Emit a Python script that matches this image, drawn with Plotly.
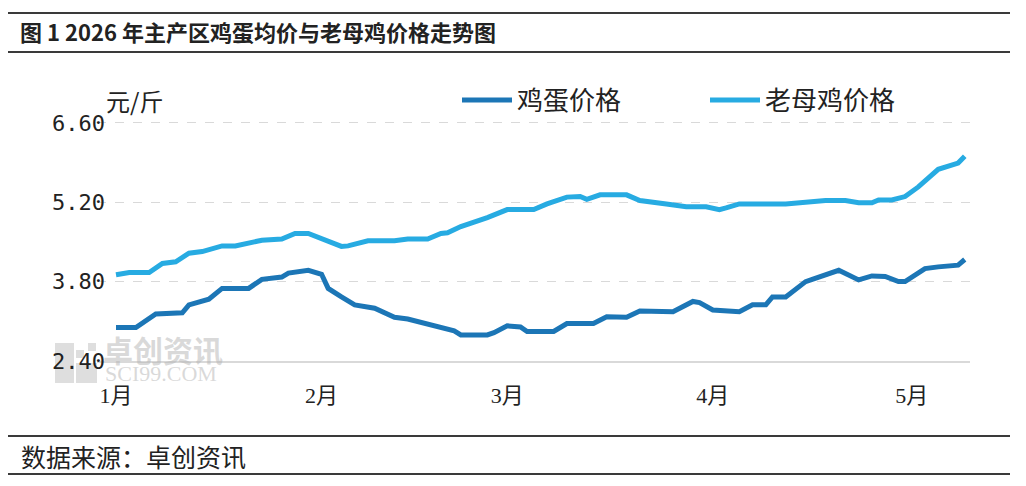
import plotly.graph_objects as go

# ---- data ----
egg_dates = ["2026-01-01", "2026-01-04", "2026-01-07", "2026-01-11", "2026-01-12", "2026-01-15",
             "2026-01-17", "2026-01-21", "2026-01-23", "2026-01-26", "2026-01-27", "2026-01-30",
             "2026-02-01", "2026-02-02", "2026-02-04", "2026-02-06", "2026-02-09", "2026-02-12",
             "2026-02-14", "2026-02-16", "2026-02-18", "2026-02-20", "2026-02-21", "2026-02-22",
             "2026-02-26", "2026-02-27", "2026-03-01", "2026-03-03", "2026-03-04", "2026-03-08",
             "2026-03-10", "2026-03-14", "2026-03-16", "2026-03-19", "2026-03-21", "2026-03-26",
             "2026-03-29", "2026-03-30", "2026-04-01", "2026-04-05", "2026-04-07", "2026-04-09",
             "2026-04-10", "2026-04-12", "2026-04-15", "2026-04-16", "2026-04-18", "2026-04-20",
             "2026-04-23", "2026-04-25", "2026-04-27", "2026-04-29", "2026-04-30", "2026-05-03",
             "2026-05-05", "2026-05-08", "2026-05-09"]
egg_price = [2.99, 2.99, 3.23, 3.25, 3.39, 3.49,
             3.68, 3.68, 3.84, 3.88, 3.95, 4.00,
             3.93, 3.68, 3.53, 3.39, 3.33, 3.17,
             3.14, 3.08, 3.03, 2.95, 2.93, 2.86,
             2.86, 2.90, 3.02, 3.00, 2.92, 2.92,
             3.06, 3.06, 3.18, 3.17, 3.28, 3.27,
             3.45, 3.43, 3.30, 3.27, 3.39, 3.39,
             3.53, 3.53, 3.80, 3.84, 3.92, 4.00,
             3.83, 3.90, 3.89, 3.80, 3.80, 4.03,
             4.06, 4.09, 4.19]

hen_dates = ["2026-01-01", "2026-01-03", "2026-01-06", "2026-01-08", "2026-01-10", "2026-01-12",
             "2026-01-14", "2026-01-17", "2026-01-19", "2026-01-23", "2026-01-26", "2026-01-28",
             "2026-01-30", "2026-02-01", "2026-02-02", "2026-02-04", "2026-02-05", "2026-02-08",
             "2026-02-12", "2026-02-14", "2026-02-17", "2026-02-19", "2026-02-20", "2026-02-22",
             "2026-02-26", "2026-03-01", "2026-03-05", "2026-03-07", "2026-03-10", "2026-03-12",
             "2026-03-13", "2026-03-15", "2026-03-19", "2026-03-21", "2026-03-25", "2026-03-27",
             "2026-03-28", "2026-03-31", "2026-04-02", "2026-04-03", "2026-04-05", "2026-04-12",
             "2026-04-15", "2026-04-18", "2026-04-21", "2026-04-23", "2026-04-25", "2026-04-26",
             "2026-04-28", "2026-04-30", "2026-05-02", "2026-05-05", "2026-05-08", "2026-05-09"]
hen_price = [3.92, 3.96, 3.96, 4.12, 4.15, 4.30,
             4.33, 4.43, 4.43, 4.53, 4.55, 4.65,
             4.65, 4.56, 4.50, 4.42, 4.43, 4.52,
             4.52, 4.55, 4.55, 4.65, 4.66, 4.77,
             4.93, 5.07, 5.07, 5.17, 5.29, 5.30,
             5.25, 5.33, 5.33, 5.23, 5.17, 5.15,
             5.12, 5.12, 5.07, 5.10, 5.17, 5.17,
             5.21, 5.23, 5.23, 5.19, 5.19, 5.24,
             5.24, 5.30, 5.47, 5.78, 5.89, 6.01]

series_names = ["鸡蛋价格", "老母鸡价格"]
y_ticks = [2.40, 3.80, 5.20, 6.60]
y_tick_labels = ["2.40", "3.80", "5.20", "6.60"]
x_ticks = ["2026-01-01", "2026-02-01", "2026-03-01", "2026-04-01", "2026-05-01"]
x_tick_labels = ["1月", "2月", "3月", "4月", "5月"]

title_text = "图 1 2026 年主产区鸡蛋均价与老母鸡价格走势图"
source_text = "数据来源：卓创资讯"
unit_text = "元/斤"
watermark_cn = "卓创资讯"
watermark_en = "SCI99.COM"

# ---- layout geometry (screen pixels; page body has an 8px margin) ----
OFF = 8
W, H = 1026, 486
PLOT_L, PLOT_R, PLOT_T, PLOT_B = 97, 970, 120, 361   # screen coords of the plot area
L = PLOT_L - OFF
T = PLOT_T - OFF
R = W - (PLOT_R - OFF)
B = H - (PLOT_B - OFF)
PW, PH = W - L - R, H - T - B


def px(xs):
    return (xs - PLOT_L) / PW


def py(ys):
    return (PLOT_B - ys) / PH


EGG_COLOR = "#1c76b6"
HEN_COLOR = "#27abe2"
CJK = "Noto Sans CJK SC, sans-serif"

fig = go.Figure()
fig.add_trace(go.Scatter(x=egg_dates, y=egg_price, mode="lines", name=series_names[0],
                         line=dict(color=EGG_COLOR, width=5)))
fig.add_trace(go.Scatter(x=hen_dates, y=hen_price, mode="lines", name=series_names[1],
                         line=dict(color=HEN_COLOR, width=5)))

fig.update_layout(
    width=W, height=H,
    margin=dict(l=L, r=R, t=T, b=B),
    paper_bgcolor="white", plot_bgcolor="white",
    font=dict(family=CJK, color="#333333"),
    title=dict(text="<b>" + title_text + "</b>", xref="container", yref="container",
               x=(20 - OFF) / W, y=1 - (33 - OFF) / H, xanchor="left", yanchor="middle",
               font=dict(family=CJK, size=22, color="#222222")),
    legend=dict(orientation="h", x=px(457), y=py(100), xanchor="left", yanchor="middle",
                font=dict(family=CJK, size=26, color="#222222"),
                entrywidth=183, entrywidthmode="pixels", itemwidth=50,
                bgcolor="rgba(0,0,0,0)", traceorder="normal"),
    showlegend=True,
)

fig.update_xaxes(
    type="date",
    range=["2025-12-29 03:13", "2026-05-09 19:00"],
    tickvals=x_ticks, ticktext=x_tick_labels,
    tickfont=dict(family="Liberation Serif, Noto Sans CJK SC, serif", size=22, color="#222222"),
    showgrid=False, zeroline=False,
    showline=True, linecolor="#d9d9d9", linewidth=1.5,
    ticks="", ticklabelstandoff=14,
)
fig.update_yaxes(
    range=[2.40, 6.65],
    tickvals=y_ticks, ticktext=y_tick_labels,
    tickfont=dict(family="DejaVu Sans Mono, monospace", size=22, color="#222222"),
    showgrid=True, gridcolor="#d9d9d9", griddash="dash", gridwidth=1,
    zeroline=False, showline=False, ticks="", ticklabelstandoff=-9,
)

# unit label
fig.add_annotation(text=unit_text, xref="paper", yref="paper", x=px(104), y=py(100),
                   xanchor="left", yanchor="middle", showarrow=False,
                   font=dict(family=CJK, size=24, color="#222222"))
# source
fig.add_annotation(text=source_text, xref="paper", yref="paper", x=px(19), y=py(456),
                   xanchor="left", yanchor="middle", showarrow=False,
                   font=dict(family=CJK, size=25, color="#222222"))

# watermark
fig.add_annotation(text="<b>" + watermark_cn + "</b>", xref="paper", yref="paper", x=px(102), y=py(349),
                   xanchor="left", yanchor="middle", showarrow=False, borderpad=0,
                   font=dict(family=CJK, size=30, color="rgba(180,180,180,0.5)"))
fig.add_annotation(text=watermark_en, xref="paper", yref="paper", x=px(104), y=py(373),
                   xanchor="left", yanchor="middle", showarrow=False, borderpad=0,
                   font=dict(family="Liberation Serif, serif", size=22, color="rgba(180,180,180,0.5)"))
wm = "rgba(190,190,190,0.5)"
for (x0, y0, x1, y1) in [(55, 343, 74, 383), (76, 363, 97, 383), (76, 350, 84, 358), (88, 343, 96, 351)]:
    fig.add_shape(type="rect", xref="paper", yref="paper",
                  x0=px(x0), x1=px(x1), y0=py(y0), y1=py(y1),
                  fillcolor=wm, line=dict(width=0), layer="below")

# frame rules
for ys in (13, 52, 436, 474):
    fig.add_shape(type="line", xref="paper", yref="paper",
                  x0=px(5), x1=px(1010), y0=py(ys), y1=py(ys),
                  line=dict(color="#3a3a3a", width=2))

fig.write_html("out.html")
